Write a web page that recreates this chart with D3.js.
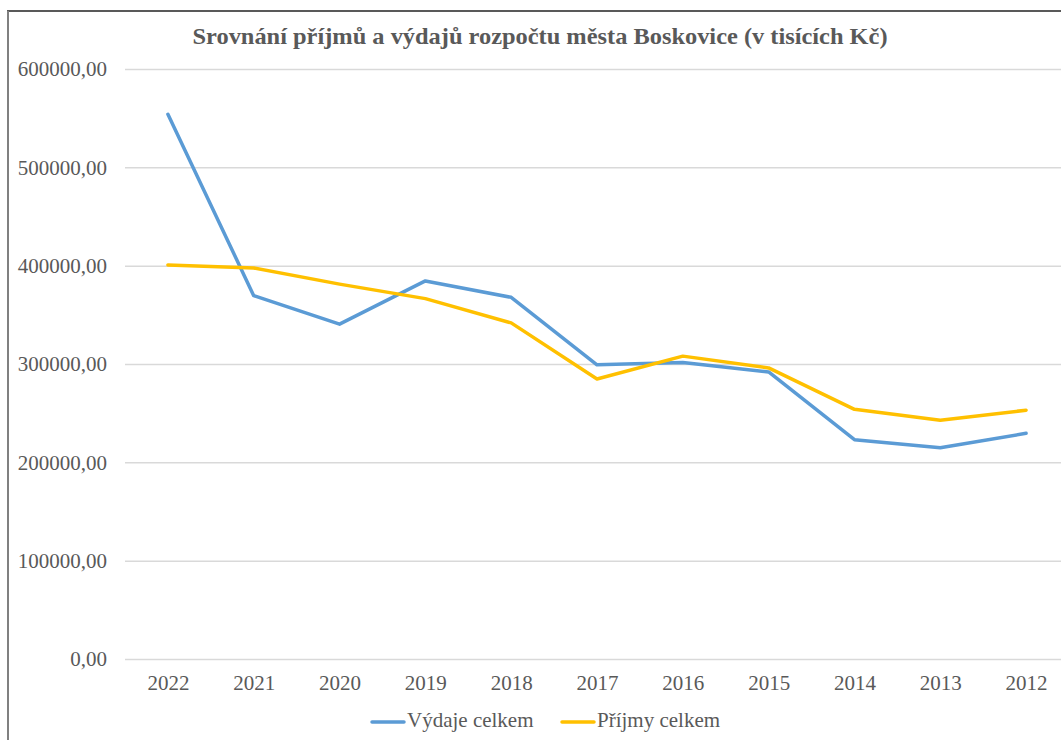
<!DOCTYPE html>
<html>
<head>
<meta charset="utf-8">
<script src="https://cdn.jsdelivr.net/npm/d3@7"></script>
<style>
  body { margin: 0; background: #fff; }
  svg { display: block; }
</style>
</head>
<body>
<div id="chart"></div>
<script>
// data (v tisících Kč)
const years = ["2022", "2021", "2020", "2019", "2018", "2017", "2016", "2015", "2014", "2013", "2012"];
const vydaje = [554000, 369500, 340500, 384500, 367800, 299200, 301500, 291900, 223000, 214800, 229500];
const prijmy = [400800, 397700, 381200, 366500, 341800, 284800, 308000, 296000, 253900, 242900, 253000];
const yTicks = [0, 100000, 200000, 300000, 400000, 500000, 600000];
const seriesNames = ["Výdaje celkem", "Příjmy celkem"];
const seriesColors = ["#5B9BD5", "#FFC000"];

const W = 1061, H = 740;
const plot = { left: 125, right: 1069, top: 69, bottom: 659 };
const FONT = "'Liberation Serif', 'Times New Roman', serif";
const TXT = "#595959";

const svg = d3.select("#chart").append("svg")
  .attr("width", W)
  .attr("height", H);

// frame (top line dark, left edge gray) - the picture is cropped on the right/bottom
svg.append("line")
  .attr("x1", 7).attr("x2", W).attr("y1", 11).attr("y2", 11)
  .attr("stroke", "#222").attr("stroke-width", 1.5);
svg.append("line")
  .attr("x1", 8).attr("x2", 8).attr("y1", 11).attr("y2", H)
  .attr("stroke", "#808080").attr("stroke-width", 2);

// title
svg.append("text")
  .attr("x", 540)
  .attr("y", 44)
  .attr("text-anchor", "middle")
  .attr("textLength", 695)
  .attr("lengthAdjust", "spacingAndGlyphs")
  .style("font-family", FONT)
  .style("font-weight", "bold")
  .style("font-size", "24px")
  .style("fill", TXT)
  .text("Srovnání příjmů a výdajů rozpočtu města Boskovice (v tisících Kč)");

const x = d3.scalePoint()
  .domain(years)
  .range([plot.left, plot.right])
  .padding(0.5);

const y = d3.scaleLinear()
  .domain([0, 600000])
  .range([plot.bottom, plot.top]);

const fmt = v => d3.format(".2f")(v).replace(".", ",");

// gridlines + y labels
const yAxis = d3.axisLeft(y)
  .tickValues(yTicks)
  .tickSize(-(plot.right - plot.left))
  .tickPadding(18)
  .tickFormat(fmt);

const gy = svg.append("g")
  .attr("transform", `translate(${plot.left},0)`)
  .call(yAxis);
gy.select(".domain").remove();
gy.selectAll(".tick line")
  .attr("stroke", "#D9D9D9")
  .attr("stroke-width", 1.5);
gy.selectAll(".tick text")
  .style("font-family", FONT)
  .style("font-size", "21px")
  .style("fill", TXT);

// x labels
const xAxis = d3.axisBottom(x).tickSize(0).tickPadding(0);
const gx = svg.append("g")
  .attr("transform", `translate(0,${plot.bottom})`)
  .call(xAxis);
gx.select(".domain").remove();
gx.selectAll(".tick text")
  .attr("dy", null)
  .attr("y", 26)
  .attr("dominant-baseline", "middle")
  .style("font-family", FONT)
  .style("font-size", "21px")
  .style("fill", TXT);

// lines
const line = d3.line()
  .x((d, i) => x(years[i]))
  .y(d => y(d));

[vydaje, prijmy].forEach((vals, i) => {
  svg.append("path")
    .datum(vals)
    .attr("d", line)
    .attr("fill", "none")
    .attr("stroke", seriesColors[i])
    .attr("stroke-width", 3.5)
    .attr("stroke-linejoin", "round")
    .attr("stroke-linecap", "round");
});

// legend
const legendX = [372, 562];
const legend = svg.append("g");
seriesNames.forEach((name, i) => {
  const g = legend.append("g").attr("transform", `translate(${legendX[i]},722)`);
  g.append("line")
    .attr("x1", 0).attr("x2", 32)
    .attr("stroke", seriesColors[i])
    .attr("stroke-width", 3.5)
    .attr("stroke-linecap", "round");
  g.append("text")
    .attr("x", 35)
    .attr("dominant-baseline", "middle")
    .style("font-family", FONT)
    .style("font-size", "21px")
    .style("fill", TXT)
    .text(name);
});
</script>
</body>
</html>
